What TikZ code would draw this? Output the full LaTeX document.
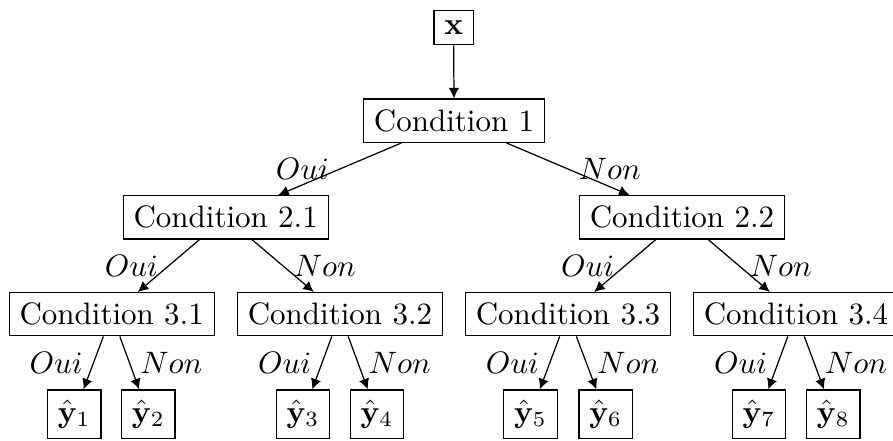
\documentclass[tikz,border=0pt]{standalone}
\usetikzlibrary{arrows.meta}
\begin{document}
\begin{tikzpicture}[x=0.32258pt,y=-0.32258pt,
  box/.style={draw, line width=0.4pt},
  edge/.style={-{Latex[length=3.4pt,width=3.4pt]}, line width=0.4pt},
  lab/.style={midway}]
\useasboundingbox (0,0) rectangle (893,440);
\node[box] (x) at (453.7,27.5) {$\mathbf{x}$};
\node[box] (c1) at (454,120.7) {Condition 1};
\node[box] (c21) at (225.7,217.3) {Condition 2.1};
\node[box] (c22) at (682,217.3) {Condition 2.2};
\node[box] (c31) at (111.7,314.2) {Condition 3.1};
\node[box] (c32) at (340,314.2) {Condition 3.2};
\node[box] (c33) at (568,314.2) {Condition 3.3};
\node[box] (c34) at (796,314.2) {Condition 3.4};
\node[box] (y1) at (74.2,414.3) {$\hat{\mathbf{y}}_1$};
\node[box] (y2) at (148.3,414.3) {$\hat{\mathbf{y}}_2$};
\node[box] (y3) at (303,414.3) {$\hat{\mathbf{y}}_3$};
\node[box] (y4) at (377,414.3) {$\hat{\mathbf{y}}_4$};
\node[box] (y5) at (530.5,414.3) {$\hat{\mathbf{y}}_5$};
\node[box] (y6) at (605.7,414.3) {$\hat{\mathbf{y}}_6$};
\node[box] (y7) at (759,414.3) {$\hat{\mathbf{y}}_7$};
\node[box] (y8) at (833.3,414.3) {$\hat{\mathbf{y}}_8$};
\draw[edge] (x) -- (c1);
\draw[edge] (c1) -- node[lab,left]{$Oui$} (c21);
\draw[edge] (c1) -- node[lab,right]{$Non$} (c22);
\draw[edge] (c21) -- node[lab,left]{$Oui$} (c31);
\draw[edge] (c21) -- node[lab,right]{$Non$} (c32);
\draw[edge] (c22) -- node[lab,left]{$Oui$} (c33);
\draw[edge] (c22) -- node[lab,right]{$Non$} (c34);
\draw[edge] (c31) -- node[lab,left]{$Oui$} (y1);
\draw[edge] (c31) -- node[lab,right]{$Non$} (y2);
\draw[edge] (c32) -- node[lab,left]{$Oui$} (y3);
\draw[edge] (c32) -- node[lab,right]{$Non$} (y4);
\draw[edge] (c33) -- node[lab,left]{$Oui$} (y5);
\draw[edge] (c33) -- node[lab,right]{$Non$} (y6);
\draw[edge] (c34) -- node[lab,left]{$Oui$} (y7);
\draw[edge] (c34) -- node[lab,right]{$Non$} (y8);
\end{tikzpicture}
\end{document}
